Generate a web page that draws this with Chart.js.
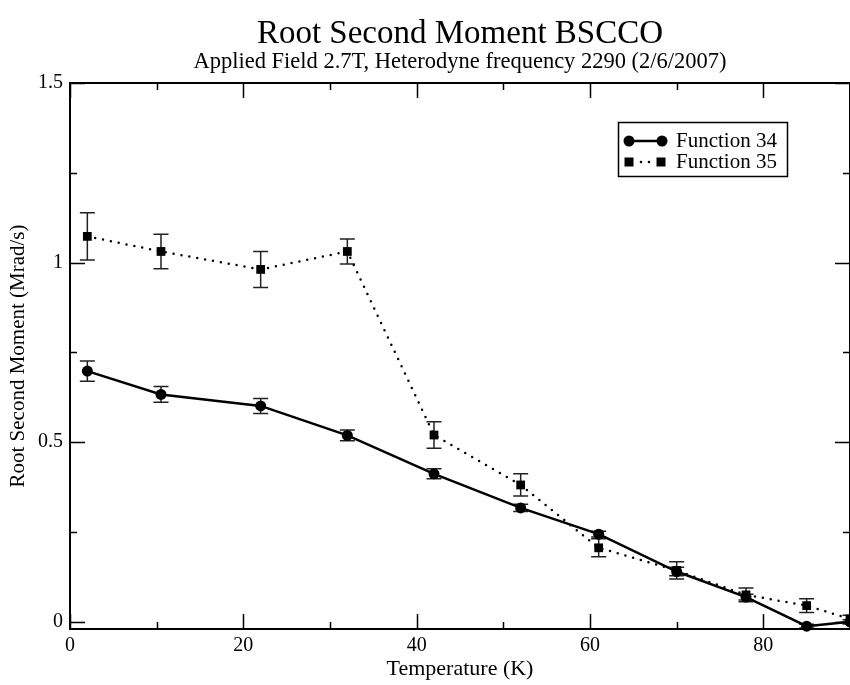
<!DOCTYPE html>
<html lang="en">
<head>
<meta charset="UTF-8">
<title>Root Second Moment BSCCO</title>
<script src="https://cdn.jsdelivr.net/npm/chart.js"></script>
<style>
  html, body { margin: 0; padding: 0; background: #fff; }
  #wrap { width: 850px; height: 685px; }
</style>
</head>
<body>
<div id="wrap"><canvas id="rsm"></canvas></div>
<script>
// Function 34 (circles, solid line)
const temps34 = [2, 10.5, 22, 32, 42, 52, 61, 70, 78, 85, 90];
const moment34 = [0.698, 0.633, 0.601, 0.519, 0.412, 0.317, 0.244, 0.140, 0.069, -0.012, 0.0];
const err34 = [0.028, 0.022, 0.021, 0.015, 0.014, 0.010, 0.008, 0.012, 0.008, 0.005, 0.006];

// Function 35 (squares, dotted line)
const temps35 = [2, 10.5, 22, 32, 42, 52, 61, 70, 78, 85, 90];
const moment35 = [1.073, 1.031, 0.981, 1.031, 0.520, 0.381, 0.206, 0.143, 0.075, 0.045, 0.008];
const err35 = [0.066, 0.048, 0.050, 0.035, 0.037, 0.031, 0.025, 0.024, 0.019, 0.019, 0.010];

const xTickValues = [0, 20, 40, 60, 80];
const xMinorValues = [10, 30, 50, 70, 90];
const yTickValues = [0, 0.5, 1, 1.5];
const yMinorValues = [0.25, 0.75, 1.25];

const serif = '"Liberation Serif", "DejaVu Serif", serif';
Chart.defaults.font.family = serif;
Chart.defaults.color = '#000';

const toPoints = (xs, ys) => xs.map((x, i) => ({ x: x, y: ys[i] }));

// error bars, frame and inward ticks
const decorations = {
    id: 'decorations',
    beforeDatasetsDraw(chart) {
        const ctx = chart.ctx;
        const xs = chart.scales.x, ys = chart.scales.y;
        ctx.save();
        ctx.strokeStyle = '#222';
        ctx.lineWidth = 1.5;
        chart.data.datasets.forEach(ds => {
            ds.data.forEach((p, i) => {
                const e = ds.errors[i];
                const px = xs.getPixelForValue(p.x);
                const top = ys.getPixelForValue(p.y + e);
                const bot = ys.getPixelForValue(p.y - e);
                ctx.beginPath();
                ctx.moveTo(px, top); ctx.lineTo(px, bot);
                ctx.moveTo(px - 7.5, top); ctx.lineTo(px + 7.5, top);
                ctx.moveTo(px - 7.5, bot); ctx.lineTo(px + 7.5, bot);
                ctx.stroke();
            });
        });
        ctx.restore();
    },
    afterDatasetsDraw(chart) {
        const ctx = chart.ctx;
        const a = chart.chartArea;
        const xs = chart.scales.x, ys = chart.scales.y;
        ctx.save();
        ctx.strokeStyle = '#000';
        ctx.lineWidth = 2;
        ctx.strokeRect(a.left, a.top, a.right - a.left, a.bottom - a.top);
        ctx.lineWidth = 1.5;
        ctx.beginPath();
        const vTick = (v, len) => {
            const px = Math.round(xs.getPixelForValue(v)) + 0.5;
            ctx.moveTo(px, a.bottom); ctx.lineTo(px, a.bottom - len);
            ctx.moveTo(px, a.top); ctx.lineTo(px, a.top + len);
        };
        const hTick = (v, len) => {
            const py = Math.round(ys.getPixelForValue(v)) + 0.5;
            ctx.moveTo(a.left, py); ctx.lineTo(a.left + len, py);
            ctx.moveTo(a.right, py); ctx.lineTo(a.right - len, py);
        };
        xTickValues.forEach(v => vTick(v, 15));
        xMinorValues.forEach(v => vTick(v, 7));
        yTickValues.forEach(v => hTick(v, 15));
        yMinorValues.forEach(v => hTick(v, 7));
        ctx.stroke();
        ctx.restore();
    },
    afterDraw(chart) {
        // legend box, xmgrace style
        const ctx = chart.ctx;
        ctx.save();
        ctx.strokeStyle = '#000';
        ctx.lineWidth = 1.5;
        ctx.strokeRect(618.5, 122.5, 169, 54);
        ctx.fillStyle = '#000';
        // Function 34
        ctx.lineWidth = 2.5;
        ctx.beginPath();
        ctx.moveTo(629, 141); ctx.lineTo(662, 141);
        ctx.stroke();
        [629, 662].forEach(x => {
            ctx.beginPath(); ctx.arc(x, 141, 5.5, 0, Math.PI * 2); ctx.fill();
        });
        // Function 35
        [629, 661].forEach(x => ctx.fillRect(x - 4.5, 162 - 4.5, 9, 9));
        [641, 649].forEach(x => {
            ctx.beginPath(); ctx.arc(x, 162, 1.3, 0, Math.PI * 2); ctx.fill();
        });
        ctx.font = '21px ' + serif;
        ctx.textBaseline = 'middle';
        ctx.textAlign = 'left';
        ctx.fillText(chart.data.datasets[0].label, 676, 141);
        ctx.fillText(chart.data.datasets[1].label, 676, 162);
        ctx.restore();
    }
};

new Chart(document.getElementById('rsm'), {
    type: 'line',
    data: {
        datasets: [{
            label: 'Function 34',
            data: toPoints(temps34, moment34),
            errors: err34,
            borderColor: '#000',
            backgroundColor: '#000',
            borderWidth: 2.5,
            pointStyle: 'circle',
            pointRadius: 5.5,
            pointBorderWidth: 0,
            tension: 0,
            clip: false
        }, {
            label: 'Function 35',
            data: toPoints(temps35, moment35),
            errors: err35,
            borderColor: '#000',
            backgroundColor: '#000',
            borderWidth: 2.5,
            borderDash: [0, 8],
            borderCapStyle: 'round',
            pointStyle: 'rect',
            pointRadius: 6.2,
            pointBorderWidth: 0,
            tension: 0,
            clip: false
        }]
    },
    options: {
        responsive: true,
        maintainAspectRatio: false,
        animation: false,
        devicePixelRatio: 1,
        layout: { padding: 0, autoPadding: false },
        plugins: {
            legend: { display: false },
            tooltip: { enabled: false },
            title: {
                display: true,
                text: 'Root Second Moment BSCCO',
                fullSize: false,
                color: '#000',
                font: { size: 33, weight: 'normal', lineHeight: 1 },
                padding: { top: 17.5, bottom: 0 }
            },
            subtitle: {
                display: true,
                text: 'Applied Field 2.7T, Heterodyne frequency 2290 (2/6/2007)',
                fullSize: false,
                color: '#000',
                font: { size: 22.5, weight: 'normal', lineHeight: 1 },
                padding: { top: 0, bottom: 10 }
            }
        },
        scales: {
            x: {
                type: 'linear',
                min: 0,
                max: 90,
                afterBuildTicks: s => { s.ticks = xTickValues.map(v => ({ value: v })); },
                afterFit: s => { s.height = 56; s.paddingLeft = 0; s.paddingRight = 0; },
                grid: { display: false, drawTicks: false },
                border: { display: false },
                ticks: { font: { size: 20 }, padding: 5, color: '#000' },
                title: {
                    display: true,
                    text: 'Temperature (K)',
                    font: { size: 22 },
                    padding: { top: 0, bottom: 3 },
                    color: '#000'
                }
            },
            y: {
                type: 'linear',
                min: -0.02,
                max: 1.5,
                afterBuildTicks: s => { s.ticks = yTickValues.map(v => ({ value: v })); },
                afterFit: s => { s.width = 70; s.paddingTop = 0; s.paddingBottom = 0; },
                grid: { display: false, drawTicks: false },
                border: { display: false },
                ticks: { font: { size: 20 }, padding: 7, color: '#000', callback: v => String(v) },
                title: {
                    display: true,
                    text: 'Root Second Moment (Mrad/s)',
                    font: { size: 21 },
                    padding: { top: 6, bottom: 0 },
                    color: '#000'
                }
            }
        }
    },
    plugins: [decorations]
});
</script>
</body>
</html>
